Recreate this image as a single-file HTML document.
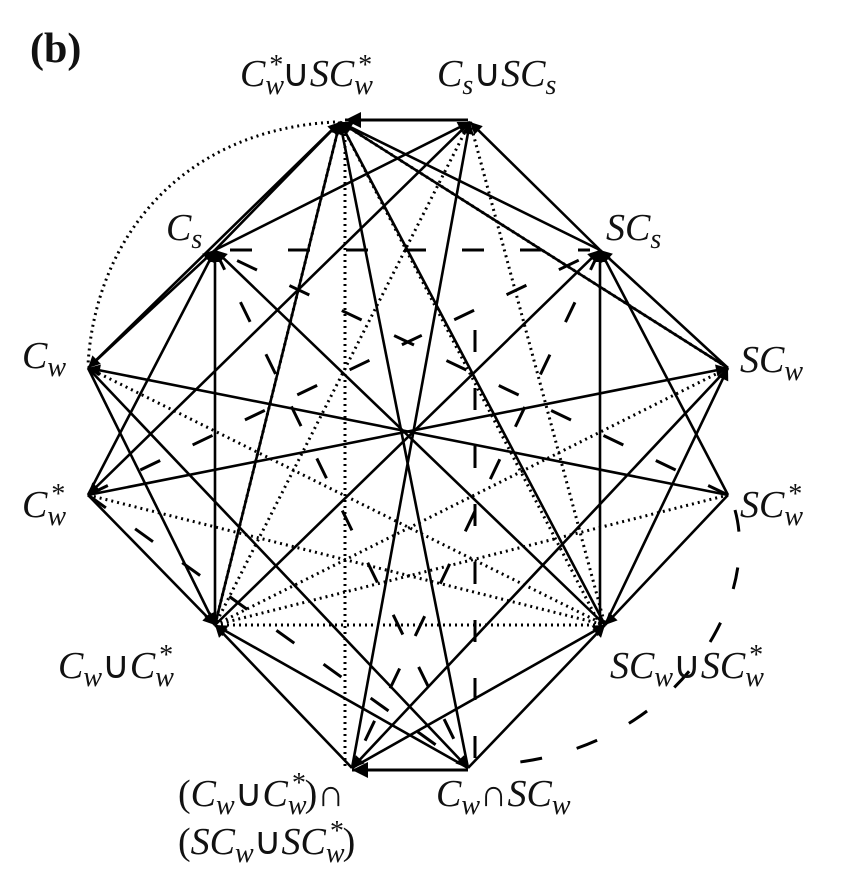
<!DOCTYPE html>
<html><head><meta charset="utf-8"><style>
body{margin:0;background:#fff}
svg{display:block}
text{font-family:"Liberation Serif",serif;font-style:italic;fill:#111}
</style></head><body>
<svg width="857" height="891" viewBox="0 0 857 891" xmlns="http://www.w3.org/2000/svg">
<defs>
<marker id="a" viewBox="0 0 10 10" refX="10" refY="5" markerWidth="16" markerHeight="12" orient="auto" markerUnits="userSpaceOnUse"><path d="M0,0 L10,5 L0,10z" fill="#000"/></marker>
<marker id="b" viewBox="0 0 10 10" refX="10" refY="5" markerWidth="26" markerHeight="16" orient="auto" markerUnits="userSpaceOnUse"><path d="M0,0 L10,5 L0,10z" fill="#000"/></marker>
</defs>
<g stroke="#000" fill="none">
<line x1="468" y1="120" x2="345" y2="120" stroke-width="3" marker-end="url(#b)"/>
<line x1="468" y1="770" x2="352" y2="770" stroke-width="3" marker-end="url(#b)"/>
<g stroke-width="2.6" marker-end="url(#a)">
<line x1="215" y1="250" x2="340" y2="122"/>
<line x1="600" y1="250" x2="340" y2="122"/>
<line x1="728" y1="368" x2="340" y2="122"/>
<line x1="215" y1="625" x2="340" y2="122"/>
<line x1="605" y1="625" x2="340" y2="122"/>
<line x1="468" y1="768" x2="340" y2="122"/>
<line x1="215" y1="250" x2="470" y2="122"/>
<line x1="600" y1="250" x2="470" y2="122"/>
<line x1="352" y1="768" x2="470" y2="122"/>
<line x1="340" y1="122" x2="88" y2="368"/>
<line x1="470" y1="122" x2="88" y2="495"/>
<line x1="88" y1="368" x2="215" y2="250"/>
<line x1="215" y1="625" x2="215" y2="250"/>
<line x1="605" y1="625" x2="215" y2="250"/>
<line x1="88" y1="495" x2="215" y2="250"/>
<line x1="728" y1="368" x2="600" y2="250"/>
<line x1="600" y1="625" x2="600" y2="250"/>
<line x1="215" y1="625" x2="600" y2="250"/>
<line x1="728" y1="495" x2="600" y2="250"/>
<line x1="728" y1="495" x2="88" y2="368"/>
<line x1="88" y1="368" x2="215" y2="625"/>
<line x1="88" y1="495" x2="728" y2="368"/>
<line x1="88" y1="495" x2="215" y2="625"/>
<line x1="605" y1="625" x2="728" y2="368"/>
<line x1="728" y1="495" x2="605" y2="625"/>
<line x1="352" y1="768" x2="215" y2="625"/>
<line x1="468" y1="768" x2="215" y2="625"/>
<line x1="352" y1="768" x2="605" y2="625"/>
<line x1="468" y1="768" x2="605" y2="625"/>
<line x1="88" y1="368" x2="468" y2="768"/>
<line x1="728" y1="368" x2="352" y2="768"/>
</g>
<!-- dotted -->
<g stroke-width="3" stroke-dasharray="2 4">
<path d="M335,122 C180,130 95,240 88,365"/>
<line x1="345" y1="122" x2="345" y2="768"/>
<line x1="340" y1="122" x2="728" y2="368"/>
<line x1="340" y1="122" x2="600" y2="625"/>
<line x1="340" y1="122" x2="215" y2="625"/>
<line x1="470" y1="122" x2="215" y2="625"/>
<line x1="470" y1="122" x2="605" y2="625"/>
<line x1="215" y1="625" x2="605" y2="625"/>
<line x1="88" y1="368" x2="605" y2="625"/>
<line x1="88" y1="495" x2="605" y2="625"/>
<line x1="215" y1="625" x2="728" y2="368"/>
<line x1="215" y1="625" x2="728" y2="495"/>
</g>
<!-- dashed -->
<g stroke-width="3" stroke-dasharray="22 36">
<line x1="230" y1="250" x2="590" y2="250"/>
<line x1="215" y1="250" x2="468" y2="768"/>
<line x1="600" y1="250" x2="352" y2="768"/>
<line x1="88" y1="495" x2="600" y2="250"/>
<line x1="728" y1="495" x2="215" y2="250"/>
<line x1="88" y1="495" x2="468" y2="768"/>
<line x1="475" y1="330" x2="475" y2="760"/>
<path d="M735,510 C760,600 680,740 520,762"/>
</g>
</g>
<text x="30" y="62" font-family="Liberation Serif" style="font-style:normal;font-weight:bold" font-size="42">(b)</text>
<g font-size="38" font-family="Liberation Serif">
<text x="240" y="86">C<tspan font-size="28" dy="8">w</tspan><tspan font-size="28" dy="-20" dx="-16">*</tspan><tspan dy="12" style="font-style:normal">∪</tspan>SC<tspan font-size="28" dy="8">w</tspan><tspan font-size="28" dy="-20" dx="-16">*</tspan></text>
<text x="437" y="86">C<tspan font-size="28" dy="8">s</tspan><tspan dy="-8" style="font-style:normal">∪</tspan>SC<tspan font-size="28" dy="8">s</tspan></text>
<text x="166" y="240">C<tspan font-size="28" dy="8">s</tspan></text>
<text x="606" y="240">SC<tspan font-size="28" dy="8">s</tspan></text>
<text x="22" y="368">C<tspan font-size="28" dy="8">w</tspan></text>
<text x="740" y="372">SC<tspan font-size="28" dy="8">w</tspan></text>
<text x="22" y="517">C<tspan font-size="28" dy="8">w</tspan><tspan font-size="28" dy="-22" dx="-16">*</tspan></text>
<text x="740" y="517">SC<tspan font-size="28" dy="8">w</tspan><tspan font-size="28" dy="-22" dx="-16">*</tspan></text>
<text x="58" y="678">C<tspan font-size="28" dy="8">w</tspan><tspan dy="-8" style="font-style:normal">∪</tspan>C<tspan font-size="28" dy="8">w</tspan><tspan font-size="28" dy="-22" dx="-16">*</tspan></text>
<text x="610" y="678">SC<tspan font-size="28" dy="8">w</tspan><tspan dy="-8" style="font-style:normal">∪</tspan>SC<tspan font-size="28" dy="8">w</tspan><tspan font-size="28" dy="-22" dx="-16">*</tspan></text>
<text x="178" y="806"><tspan style="font-style:normal">(</tspan>C<tspan font-size="28" dy="8">w</tspan><tspan dy="-8" style="font-style:normal">∪</tspan>C<tspan font-size="28" dy="8">w</tspan><tspan font-size="28" dy="-22" dx="-16">*</tspan><tspan dy="14" style="font-style:normal">)∩</tspan></text>
<text x="178" y="854"><tspan style="font-style:normal">(</tspan>SC<tspan font-size="28" dy="8">w</tspan><tspan dy="-8" style="font-style:normal">∪</tspan>SC<tspan font-size="28" dy="8">w</tspan><tspan font-size="28" dy="-22" dx="-16">*</tspan><tspan dy="14" style="font-style:normal">)</tspan></text>
<text x="436" y="806">C<tspan font-size="28" dy="8">w</tspan><tspan dy="-8" style="font-style:normal">∩</tspan>SC<tspan font-size="28" dy="8">w</tspan></text>
</g>
</svg>
</body></html>
